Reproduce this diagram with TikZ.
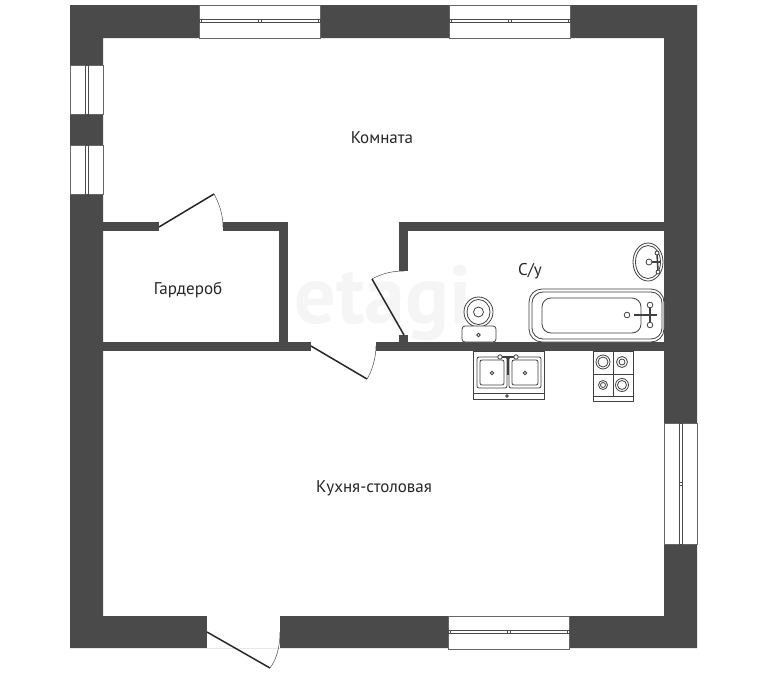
\documentclass[tikz,border=0pt]{standalone}
\usepackage{fontspec}
\setmainfont{PT Sans}
\definecolor{wallgray}{HTML}{4A4A4A}
\tikzset{
  x=1pt, y=-1pt,
  wall/.style     = {fill=wallgray, draw=none},
  opening/.style  = {fill=white, draw=none},
  pane/.style     = {fill=white, draw=gray!80!black, line width=.8pt},
  sash/.style     = {fill=white, draw=wallgray, line width=.7pt},
  leaf/.style     = {draw=black!85, line width=1.5pt},
  swing/.style    = {draw=black!70, line width=.5pt},
  fixture/.style  = {draw=black!75, line width=.8pt, fill=white},
  roomlabel/.style = {font=\fontsize{17}{20}\selectfont, text=black!85, inner sep=0pt},
  watermark/.style = {font=\fontsize{82}{90}\selectfont\bfseries, text=black!4, inner sep=0pt}
}
\begin{document}
\begin{tikzpicture}
\useasboundingbox (0,0) rectangle (768,688);

\node [watermark] (mark) at (383,303) {etagi};

% walls
\fill [wall, even odd rule] (70,5) rectangle (697,648) (103,38) rectangle (664,616);
\fill [wall] (103,222) rectangle (159,231);
\fill [wall] (223,222) rectangle (288,231);
\fill [wall] (279,222) rectangle (288,351);
\fill [wall] (103,342) rectangle (311,351);
\fill [wall] (376,342) rectangle (664,351);
\fill [wall] (399,222) rectangle (664,231);
\fill [wall] (399,222) rectangle (408,271);
\fill [wall] (399,335) rectangle (408,342);

% windows
\foreach \xa/\ya in {199/5, 449/5, 448/616} {
  \draw [pane] (\xa,\ya) rectangle (\xa+121,\ya+33);
  \draw [sash] (\xa,\ya+14.5) rectangle (\xa+121,\ya+17.5);
  \foreach \xb in {2,59,62,119}
    \draw [sash] (\xa+\xb,\ya+14.5) -- (\xa+\xb,\ya+17.5);
}
\foreach \xa/\ya/\yb in {70/65/114, 70/145/194, 664/423/544} {
  \draw [pane] (\xa,\ya) rectangle (\xa+33,\yb);
  \draw [sash] (\xa+15,\ya) rectangle (\xa+18,\yb);
}
\draw [sash] (679,482) -- (682,482) (679,485) -- (682,485);

% doors
\fill [opening] (207,616) rectangle (280,648);
\draw [leaf] (207,632) -- (270,668);
\draw [swing] (270,668) .. controls (276,660) and (280,648) .. (280,632);
\draw [leaf] (159,227) -- (214,194);
\draw [swing] (214,194) .. controls (219,203) and (223,214) .. (223,227);
\draw [leaf] (311,346) -- (367,379);
\draw [swing] (367,379) .. controls (372,371) and (376,358) .. (376,346);
\draw [leaf] (404,335) -- (372,279);
\draw [swing] (372,279) .. controls (381,274) and (391,271) .. (404,271);

% toilet
\draw [fixture] (478.5,312) ellipse [x radius=14.5, y radius=15];
\draw [fixture] (478.5,312) ellipse [x radius=11.5, y radius=12.5];
\draw [fixture] (478.5,312) circle [radius=5];
\draw [fixture, rounded corners=3pt] (462,326) rectangle (496,342);
\draw [fixture] (478.5,335) circle [radius=1.8];

% bath
\draw [fixture, rounded corners=13pt] (529,289) rectangle (664,342);
\draw [fixture, rounded corners=11pt] (532,292) rectangle (662,339);
\draw [fixture, rounded corners=9pt] (542,298) rectangle (641,333);
\draw [fixture] (627,315) circle [radius=2.8];
\draw [fixture, line width=1.6pt] (634,315) -- (657,315);
\draw [fixture, line width=1.6pt] (650,306) -- (650,325);
\draw [fixture] (650,305) circle [radius=2.8];
\draw [fixture] (650,325) circle [radius=2.8];

% washbasin
\draw [fixture] (648,262) ellipse [x radius=15, y radius=19];
\draw [fixture] (648,262) ellipse [x radius=12.5, y radius=16.5];
\draw [fixture, line width=1.6pt] (646,262) -- (660,262);
\draw [fixture] (649,262) circle [radius=3];
\draw [fixture, line width=1.6pt] (657,253) -- (658,272);
\draw [fixture] (657,253) circle [radius=2];
\draw [fixture] (658,272) circle [radius=2];

% kitchen sink
\draw [fixture] (473,351) rectangle (544,399);
\draw [fixture] (473,393) -- (544,393);
\foreach \xa/\xb in {477/507, 509/541} {
  \draw [fixture, rounded corners=2pt] (\xa,357) rectangle (\xb,388);
  \draw [fixture, rounded corners=2pt] (\xa+3,360) rectangle (\xb-3,385);
  \draw [fixture] ({(\xa+\xb)/2},373) circle [radius=1.8];
}
\draw [fixture, line width=1.6pt] (508,356) -- (508,375);
\draw [fixture, line width=1.6pt] (501,357) -- (516,357);
\draw [fixture] (500,357) circle [radius=2.2];
\draw [fixture] (516,357) circle [radius=2.2];
\draw [fixture] (507,396) circle [radius=1.2];

% stove
\draw [fixture] (593,351) rectangle (633,401);
\draw [fixture] (593,396) -- (633,396) (593,374) -- (633,374) (613,351) -- (613,396);
\foreach \xa/\ya/\ra/\rb in {603/362/7/5, 622/362/5.5/3, 603/385/4.5/2.5, 622/385/6.5/4.5} {
  \draw [fixture] (\xa,\ya) circle [radius=\ra];
  \draw [fixture] (\xa,\ya) circle [radius=\rb];
}

% labels
\node [roomlabel] (room) at (382,138) {Комната};
\node [roomlabel] (bath) at (530,271) {С/у};
\node [roomlabel] (ward) at (188,290) {Гардероб};
\node [roomlabel] (kitchen) at (374,488) {Кухня-столовая};
\end{tikzpicture}
\end{document}
